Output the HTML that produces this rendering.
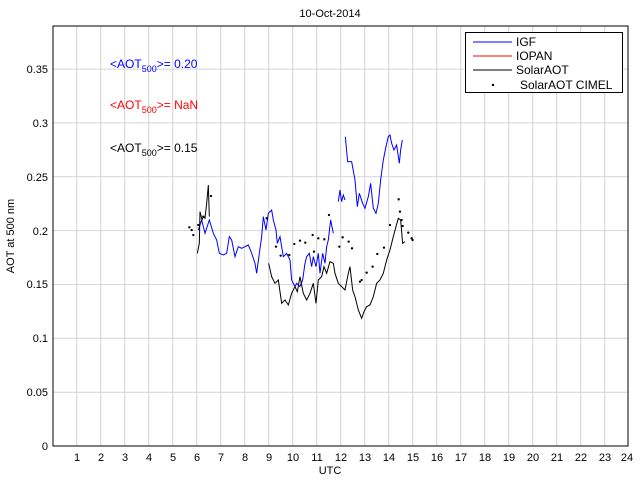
<!DOCTYPE html>
<html><head><meta charset="utf-8"><style>body{margin:0;background:#fff}svg{display:block;font-family:"Liberation Sans",sans-serif}</style></head>
<body>
<svg width="640" height="480" viewBox="0 0 640 480">
<rect width="640" height="480" fill="#fff"/>
<g stroke="#d4d4d4" stroke-width="1">
<line x1="76.7" y1="26" x2="76.7" y2="446"/><line x1="100.7" y1="26" x2="100.7" y2="446"/><line x1="124.7" y1="26" x2="124.7" y2="446"/><line x1="148.7" y1="26" x2="148.7" y2="446"/><line x1="172.7" y1="26" x2="172.7" y2="446"/><line x1="196.7" y1="26" x2="196.7" y2="446"/><line x1="220.7" y1="26" x2="220.7" y2="446"/><line x1="244.7" y1="26" x2="244.7" y2="446"/><line x1="268.7" y1="26" x2="268.7" y2="446"/><line x1="292.7" y1="26" x2="292.7" y2="446"/><line x1="316.7" y1="26" x2="316.7" y2="446"/><line x1="340.7" y1="26" x2="340.7" y2="446"/><line x1="364.7" y1="26" x2="364.7" y2="446"/><line x1="388.7" y1="26" x2="388.7" y2="446"/><line x1="412.7" y1="26" x2="412.7" y2="446"/><line x1="436.7" y1="26" x2="436.7" y2="446"/><line x1="460.7" y1="26" x2="460.7" y2="446"/><line x1="484.7" y1="26" x2="484.7" y2="446"/><line x1="508.7" y1="26" x2="508.7" y2="446"/><line x1="532.7" y1="26" x2="532.7" y2="446"/><line x1="556.7" y1="26" x2="556.7" y2="446"/><line x1="580.7" y1="26" x2="580.7" y2="446"/><line x1="604.7" y1="26" x2="604.7" y2="446"/>
<line x1="53" y1="392.2" x2="628" y2="392.2"/><line x1="53" y1="338.3" x2="628" y2="338.3"/><line x1="53" y1="284.5" x2="628" y2="284.5"/><line x1="53" y1="230.6" x2="628" y2="230.6"/><line x1="53" y1="176.8" x2="628" y2="176.8"/><line x1="53" y1="122.9" x2="628" y2="122.9"/><line x1="53" y1="69.1" x2="628" y2="69.1"/>
</g>
<rect x="53" y="26" width="575" height="420" fill="none" stroke="#000" stroke-width="1"/>
<g font-size="11" text-anchor="end" fill="#000">
<text x="48" y="450">0</text><text x="48" y="396">0.05</text><text x="48" y="342">0.1</text><text x="48" y="288">0.15</text><text x="48" y="235">0.2</text><text x="48" y="181">0.25</text><text x="48" y="127">0.3</text><text x="48" y="73">0.35</text>
</g>
<g font-size="11" text-anchor="middle">
<text x="77" y="461">1</text><text x="101" y="461">2</text><text x="125" y="461">3</text><text x="149" y="461">4</text><text x="173" y="461">5</text><text x="197" y="461">6</text><text x="221" y="461">7</text><text x="245" y="461">8</text><text x="269" y="461">9</text><text x="293" y="461">10</text><text x="317" y="461">11</text><text x="341" y="461">12</text><text x="365" y="461">13</text><text x="389" y="461">14</text><text x="413" y="461">15</text><text x="437" y="461">16</text><text x="461" y="461">17</text><text x="485" y="461">18</text><text x="509" y="461">19</text><text x="533" y="461">20</text><text x="557" y="461">21</text><text x="581" y="461">22</text><text x="605" y="461">23</text><text x="627" y="461">24</text>
<text x="330" y="474">UTC</text>
<text x="330" y="17">10-Oct-2014</text>
<text transform="translate(14,236) rotate(-90)">AOT at 500 nm</text>
</g>
<g font-size="12">
<text x="110" y="68" fill="#0000ff">&lt;AOT<tspan font-size="9" dy="4">500</tspan><tspan dy="-4">&gt;= 0.20</tspan></text>
<text x="110" y="109" fill="#ff0000">&lt;AOT<tspan font-size="9" dy="4">500</tspan><tspan dy="-4">&gt;=  NaN</tspan></text>
<text x="110" y="152" fill="#000">&lt;AOT<tspan font-size="9" dy="4">500</tspan><tspan dy="-4">&gt;= 0.15</tspan></text>
</g>
<g transform="translate(160,120) scale(0.3333)" fill="none" stroke-width="1" vector-effect="non-scaling-stroke">
<polyline vector-effect="non-scaling-stroke" stroke="#0000ff" points="115,330 125,300 135,340 148,300 160,340 170,360 178,400 190,405 200,400 208,350 215,360 225,410 235,380 245,385 255,380 265,375 275,400 285,430 290,460 298,400 305,350 310,290 318,330 325,280 335,270 340,300 348,330 352,370 360,350 365,380 370,410 380,400 390,420 395,480 405,500 410,490 420,500 428,480 435,430 440,410 448,400 455,440 460,410 468,440 475,400 480,460 488,400 495,430 500,380 505,360 512,300 520,340"/>
<polyline vector-effect="non-scaling-stroke" stroke="#0000ff" points="535,245 540,210 545,245 550,225 555,240"/>
<polyline vector-effect="non-scaling-stroke" stroke="#0000ff" points="556,50 563,125 575,125 585,180 592,260 598,220 608,250 615,265 625,230 632,190 640,265 648,280 655,250 662,180 670,120 678,80 685,50 690,45 695,70 702,90 710,75 718,130 722,90 727,60"/>
<polyline vector-effect="non-scaling-stroke" stroke="#000" points="112,400 118,370 120,275 126,300 130,290 135,295 140,250 145,195 148,290"/>
<polyline vector-effect="non-scaling-stroke" stroke="#000" points="326,430 335,470 345,490 355,480 365,550 375,540 385,555 395,520 405,500 412,515 420,470 430,520 440,540 450,520 460,490 468,550 475,480 485,470 492,440 500,460 510,425 520,430 525,460 535,490 545,500 555,510 565,460 570,440 578,510 585,530 595,570 605,595 612,575 620,560 630,555 640,530 650,490 660,480 670,460 680,420 690,390 700,350 708,320 715,295 722,300 728,370 735,365"/>
<g fill="#000" stroke="none">
<circle cx="88" cy="322" r="3.5"/><circle cx="95" cy="330" r="3.5"/><circle cx="100" cy="345" r="3.5"/><circle cx="115" cy="315" r="3.5"/><circle cx="130" cy="290" r="3.5"/><circle cx="153" cy="228" r="3.5"/><circle cx="320" cy="295" r="3.5"/><circle cx="348" cy="380" r="3.5"/><circle cx="362" cy="407" r="3.5"/><circle cx="388" cy="405" r="3.5"/><circle cx="403" cy="372" r="3.5"/><circle cx="420" cy="362" r="3.5"/><circle cx="436" cy="368" r="3.5"/><circle cx="458" cy="345" r="3.5"/><circle cx="462" cy="395" r="3.5"/><circle cx="475" cy="355" r="3.5"/><circle cx="493" cy="358" r="3.5"/><circle cx="507" cy="285" r="3.5"/><circle cx="538" cy="380" r="3.5"/><circle cx="548" cy="352" r="3.5"/><circle cx="566" cy="365" r="3.5"/><circle cx="576" cy="385" r="3.5"/><circle cx="600" cy="485" r="3.5"/><circle cx="605" cy="480" r="3.5"/><circle cx="620" cy="458" r="3.5"/><circle cx="638" cy="440" r="3.5"/><circle cx="652" cy="402" r="3.5"/><circle cx="672" cy="383" r="3.5"/><circle cx="690" cy="315" r="3.5"/><circle cx="716" cy="238" r="3.5"/><circle cx="720" cy="275" r="3.5"/><circle cx="725" cy="300" r="3.5"/><circle cx="728" cy="318" r="3.5"/><circle cx="745" cy="338" r="3.5"/><circle cx="755" cy="355" r="3.5"/><circle cx="758" cy="360" r="3.5"/>
</g>
</g>
<rect x="465.5" y="32.5" width="157" height="60" fill="#fff" stroke="#000"/>
<g stroke-width="1"><line x1="473" y1="42" x2="512" y2="42" stroke="#0000ff"/><line x1="473" y1="56" x2="512" y2="56" stroke="#ff0000"/><line x1="473" y1="70" x2="512" y2="70" stroke="#000"/></g>
<circle cx="493" cy="85" r="1.2" fill="#000"/>
<g font-size="12"><text x="516" y="46">IGF</text><text x="516" y="60">IOPAN</text><text x="516" y="74">SolarAOT</text><text x="520" y="89">SolarAOT CIMEL</text></g>
</svg>
</body></html>
